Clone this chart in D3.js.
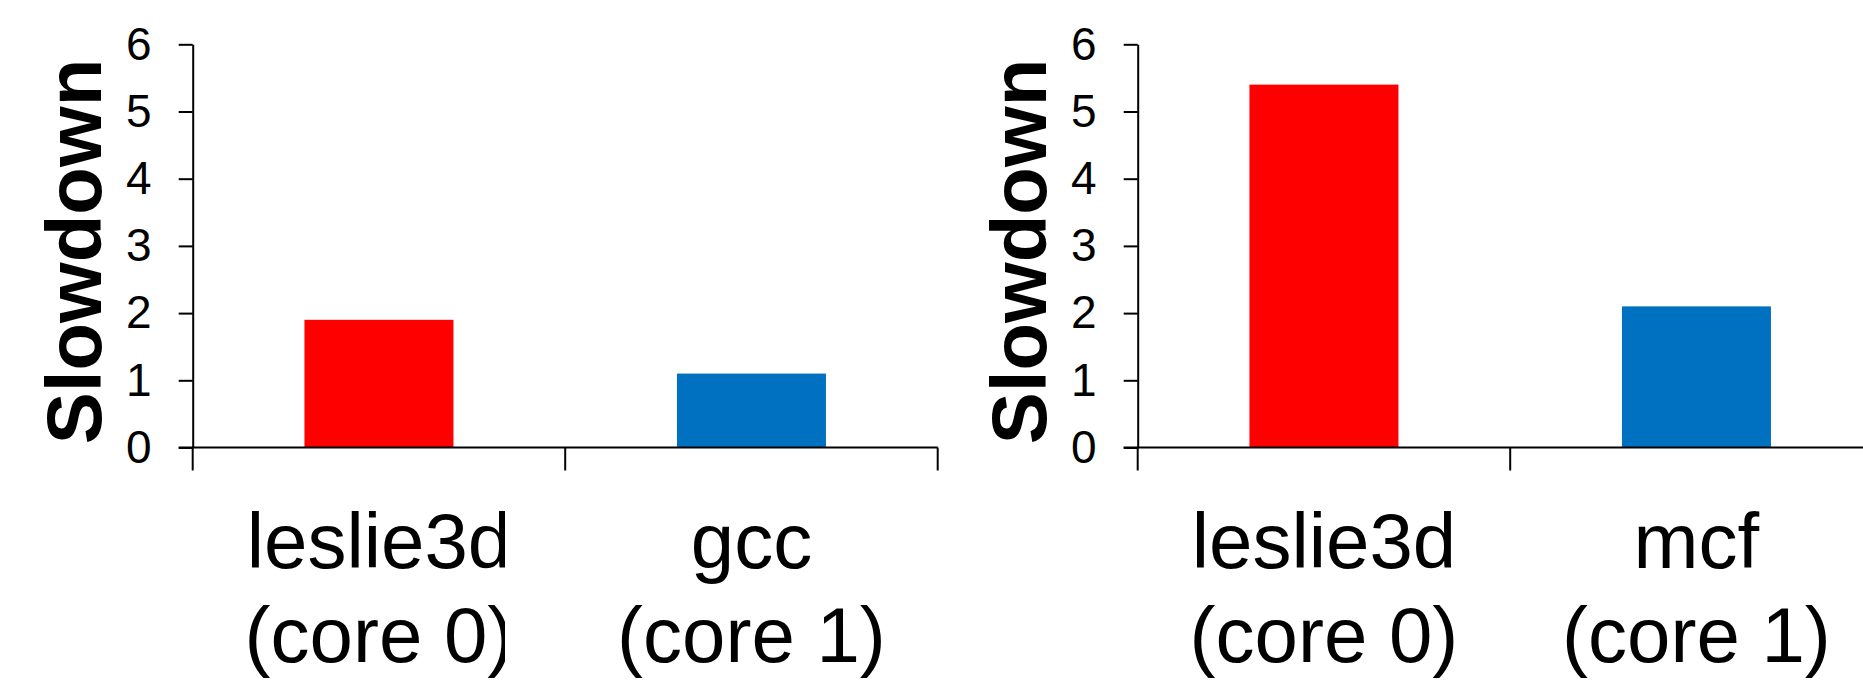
<!DOCTYPE html>
<html>
<head>
<meta charset="utf-8">
<script src="https://cdn.jsdelivr.net/npm/d3@7"></script>
<style>
  html, body { margin: 0; padding: 0; background: #fff; }
  svg { display: block; }
</style>
</head>
<body>
<svg id="chart" width="1863" height="684"></svg>
<script>
// ---- data ----
const yTicks = [0, 1, 2, 3, 4, 5, 6];
const yLabel = "Slowdown";
const leftCategories = ["leslie3d", "gcc"];
const leftCores = ["(core 0)", "(core 1)"];
const leftValues = [1.9, 1.1];
const rightCategories = ["leslie3d", "mcf"];
const rightCores = ["(core 0)", "(core 1)"];
const rightValues = [5.4, 2.1];
const barColors = ["#FF0000", "#0070C0"];

const svg = d3.select("#chart");
const FONT = "'Liberation Sans', Arial, Helvetica, sans-serif";

const y = d3.scaleLinear().domain([0, 6]).range([447.5, 44.3]);

function drawPanel(x0, cats, cores, vals, clipRight) {
  const g = svg.append("g");
  const x = d3.scaleBand().domain(cats).range([x0, x0 + 745])
    .paddingInner(0.6).paddingOuter(0.3);

  // bars
  g.selectAll("rect.bar").data(vals).join("rect")
    .attr("class", "bar")
    .attr("x", (d, i) => x(cats[i]))
    .attr("width", x.bandwidth())
    .attr("y", d => y(d))
    .attr("height", d => y(0) - y(d))
    .attr("fill", (d, i) => barColors[i]);

  // y axis
  const ya = g.append("g").attr("transform", `translate(${x0},0)`)
    .call(d3.axisLeft(y).tickValues(yTicks).tickSize(14).tickSizeOuter(0).tickPadding(27)
      .tickFormat(d3.format("d")));
  ya.select(".domain").attr("stroke", "#000").attr("stroke-width", 2);
  ya.selectAll(".tick line").attr("stroke", "#000").attr("stroke-width", 2);
  ya.selectAll(".tick text").attr("font-family", FONT).attr("font-size", 46).attr("fill", "#000");

  // x axis baseline
  const [r0, r1] = x.range();
  g.append("line").attr("x1", r0 - 14).attr("x2", r1 + (clipRight ? 0 : 40))
    .attr("y1", y(0)).attr("y2", y(0)).attr("stroke", "#000").attr("stroke-width", 2);

  // category boundary ticks
  g.selectAll("line.ctick").data(d3.range(cats.length + 1)).join("line")
    .attr("class", "ctick")
    .attr("x1", i => r0 + i * x.step() / (1) * 1)
    .attr("x2", i => r0 + i * x.step())
    .attr("y1", y(0)).attr("y2", y(0) + 23)
    .attr("stroke", "#000").attr("stroke-width", 2);

  // category labels
  const cp = "clip" + Math.round(x0);
  svg.append("clipPath").attr("id", cp).append("rect")
    .attr("x", 0).attr("y", 0).attr("width", clipRight ? clipRight : 1863).attr("height", 684);
  const lab = g.selectAll("text.cat").data(cats).join("text")
    .attr("class", "cat")
    .attr("text-anchor", "middle")
    .attr("font-family", FONT).attr("font-size", 78).attr("fill", "#000")
    .attr("clip-path", (d, i) => i === 0 ? `url(#${cp})` : null);
  lab.append("tspan").attr("x", d => x(d) + x.bandwidth() / 2).attr("y", y(0) + 120.5).text(d => d);
  lab.append("tspan").attr("x", d => x(d) + x.bandwidth() / 2).attr("y", y(0) + 214.5)
    .text((d, i) => cores[i]);

  // y label
  svg.append("text")
    .attr("transform", `translate(${x0 - 92},251.5) rotate(-90)`)
    .attr("text-anchor", "middle")
    .attr("font-family", FONT).attr("font-weight", "bold").attr("font-size", 78)
    .attr("fill", "#000")
    .text(yLabel);
}

drawPanel(192.7, leftCategories, leftCores, leftValues, 505);
drawPanel(1137.7, rightCategories, rightCores, rightValues, null);
</script>
</body>
</html>
